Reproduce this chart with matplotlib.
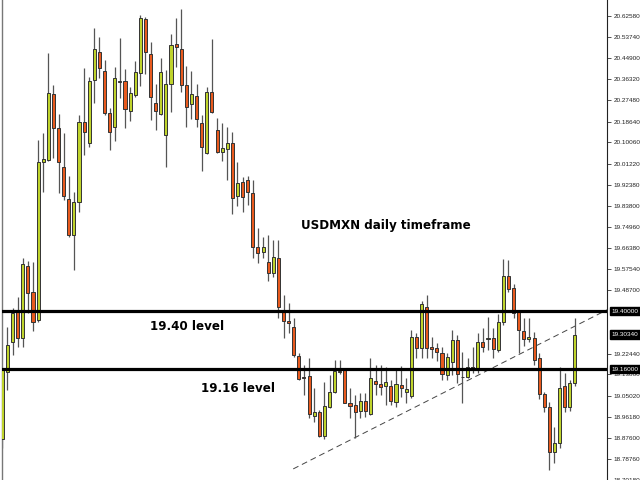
import numpy as np
import matplotlib.pyplot as plt
import matplotlib.transforms as mtransforms

# Daily USDMXN candles
opens = [18.868, 19.149, 19.274, 19.398, 19.290, 19.589, 19.481, 19.365, 20.020, 20.028,
         20.302, 20.161, 19.999, 19.866, 19.717, 19.854, 20.185, 20.098, 20.359, 20.475,
         20.397, 20.223, 20.165, 20.351, 20.355, 20.231, 20.297, 20.389, 20.612, 20.467,
         20.264, 20.219, 20.132, 20.343, 20.509, 20.488, 20.339, 20.260, 20.293, 20.181,
         20.057, 20.310, 20.152, 20.061, 20.073, 20.098, 19.879, 19.937, 19.945, 19.891,
         19.668, 19.647, 19.605, 19.560, 19.622, 19.406, 19.358, 19.336, 19.216, 19.129,
         19.133, 18.967, 18.983, 18.884, 19.004, 19.067, 19.149, 19.158, 19.021, 19.013,
         18.988, 19.029, 18.975, 19.112, 19.100, 19.091, 19.091, 19.025, 19.096, 19.067,
         19.050, 19.294, 19.249, 19.419, 19.253, 19.249, 19.228, 19.137, 19.191, 19.282,
         19.129, 19.129, 19.170, 19.166, 19.274, 19.286, 19.290, 19.241, 19.357, 19.547,
         19.498, 19.398, 19.320, 19.286, 19.290, 19.208, 19.058, 19.004, 18.818, 18.855,
         19.091, 19.004, 19.104]
highs = [19.166, 19.336, 19.414, 19.460, 19.622, 19.609, 19.605, 20.111, 20.140, 20.471,
         20.339, 20.219, 20.140, 19.962, 19.895, 20.214, 20.409, 20.372, 20.575, 20.538,
         20.442, 20.243, 20.413, 20.533, 20.405, 20.331, 20.438, 20.629, 20.621, 20.517,
         20.343, 20.451, 20.401, 20.550, 20.616, 20.654, 20.418, 20.397, 20.343, 20.214,
         20.331, 20.529, 20.202, 20.181, 20.165, 20.144, 20.020, 19.958, 19.962, 19.945,
         19.746, 19.709, 19.717, 19.696, 19.696, 19.469, 19.435, 19.373, 19.228, 19.178,
         19.208, 19.083, 18.992, 19.108, 19.137, 19.199, 19.199, 19.162, 19.083, 19.054,
         19.062, 19.062, 19.208, 19.178, 19.178, 19.170, 19.116, 19.166, 19.174, 19.125,
         19.324, 19.311, 19.444, 19.469, 19.294, 19.270, 19.253, 19.228, 19.324, 19.303,
         19.232, 19.208, 19.253, 19.311, 19.332, 19.377, 19.332, 19.390, 19.618, 19.614,
         19.514, 19.406, 19.373, 19.373, 19.315, 19.228, 19.067, 19.025, 18.918, 19.170,
         19.145, 19.116, 19.373]
lows = [18.834, 19.075, 19.220, 19.253, 19.253, 19.394, 19.320, 19.357, 19.895, 20.024,
        20.036, 19.891, 19.862, 19.709, 19.572, 19.813, 20.049, 20.082, 20.264, 20.368,
        20.214, 20.069, 20.107, 20.285, 20.161, 20.190, 20.289, 20.335, 20.384, 20.194,
        20.152, 20.214, 19.999, 20.227, 20.413, 20.310, 20.165, 20.198, 20.165, 19.982,
        20.053, 20.223, 20.057, 20.024, 19.945, 19.804, 19.837, 19.813, 19.842, 19.622,
        19.601, 19.622, 19.527, 19.543, 19.373, 19.290, 19.311, 19.212, 19.116, 19.054,
        18.958, 18.942, 18.880, 18.868, 19.000, 19.062, 19.141, 19.021, 18.958, 18.876,
        18.958, 18.963, 18.971, 19.054, 19.054, 19.013, 19.013, 19.004, 19.046, 19.021,
        19.042, 19.208, 19.208, 19.208, 19.208, 19.195, 19.116, 19.116, 19.137, 19.104,
        19.021, 19.125, 19.145, 19.145, 19.232, 19.241, 19.208, 19.232, 19.344, 19.481,
        19.373, 19.228, 19.257, 19.274, 19.178, 19.038, 18.980, 18.743, 18.772, 18.834,
        18.983, 18.988, 19.091]
closes = [19.158, 19.261, 19.394, 19.290, 19.597, 19.477, 19.357, 20.020, 20.032, 20.306,
          20.161, 20.020, 19.879, 19.717, 19.854, 20.185, 20.144, 20.355, 20.488, 20.409,
          20.223, 20.144, 20.368, 20.355, 20.239, 20.306, 20.393, 20.616, 20.475, 20.289,
          20.231, 20.393, 20.343, 20.504, 20.496, 20.339, 20.248, 20.302, 20.198, 20.082,
          20.310, 20.227, 20.061, 20.078, 20.098, 19.870, 19.933, 19.875, 19.895, 19.668,
          19.643, 19.668, 19.560, 19.626, 19.419, 19.358, 19.353, 19.220, 19.120, 19.125,
          18.975, 18.983, 18.884, 19.008, 19.067, 19.153, 19.153, 19.021, 19.008, 18.983,
          19.029, 18.988, 19.125, 19.100, 19.087, 19.108, 19.029, 19.100, 19.083, 19.079,
          19.294, 19.249, 19.431, 19.249, 19.244, 19.232, 19.141, 19.212, 19.282, 19.141,
          19.129, 19.170, 19.158, 19.274, 19.253, 19.290, 19.244, 19.357, 19.547, 19.493,
          19.394, 19.324, 19.286, 19.294, 19.199, 19.058, 19.004, 18.818, 18.855, 19.083,
          19.004, 19.104, 19.303]

levels = [19.40, 19.16]
level_labels = ['19.40 level', '19.16 level']
last_price = 19.3034

# dashed trendline end points (bar index, price)
trend_x = [56.9, 118.3]
trend_y = [18.746, 19.406]

ytick_vals = [20.62580, 20.53740, 20.44900, 20.36320, 20.27480, 20.18640, 20.10060,
              20.01220, 19.92380, 19.83800, 19.74960, 19.66380, 19.57540, 19.48700,
              19.22440, 19.13860, 19.05020, 18.96180, 18.87600, 18.78760, 18.70180]

up_color = '#BFD32C'
down_color = '#E85A1E'
edge = '#333333'

o = np.array(opens)
h = np.array(highs)
l = np.array(lows)
c = np.array(closes)
x = np.arange(len(o))

fig = plt.figure(figsize=(6.4, 4.8), dpi=100)
ax = fig.add_axes([2 / 640, 0, 605 / 640, 1])

# wicks
ax.vlines(x, l, h, color='#555555', linewidth=0.9, zorder=2)

# bodies
colors = [up_color if cc >= oo else down_color for oo, cc in zip(o, c)]
ax.bar(x, np.abs(c - o), bottom=np.minimum(o, c), width=0.6, color=colors,
       edgecolor=edge, linewidth=0.7, zorder=3)

# support / resistance levels
for lv in levels:
    ax.axhline(lv, color='black', linewidth=2.3, zorder=4)

ax.plot(trend_x, trend_y, color='#444444', linewidth=0.7, linestyle=(0, (6, 4)), zorder=1)

ax.text(36.1, 19.336, level_labels[0], fontsize=8.6, fontweight='bold', ha='center', va='center')
ax.text(46.1, 19.081, level_labels[1], fontsize=8.6, fontweight='bold', ha='center', va='center')
ax.text(75.0, 19.754, 'USDMXN daily timeframe', fontsize=8.6, fontweight='bold',
        ha='center', va='center')

ax.set_xlim(-0.06, 118.27)
ax.set_ylim(18.700, 20.691)

# price axis on the right
ax.yaxis.tick_right()
ax.set_yticks(ytick_vals)
ax.set_yticklabels([f'{v:.5f}' for v in ytick_vals])
ax.tick_params(axis='y', length=3, width=0.6, color='#333333', labelsize=4.6,
               labelcolor='#222222', pad=2, labelfontfamily='Liberation Sans')
ax.set_xticks([])

for s in ['top', 'bottom']:
    ax.spines[s].set_visible(False)
ax.spines['left'].set_color('#777777')
ax.spines['left'].set_linewidth(1.0)
ax.spines['right'].set_color('#222222')
ax.spines['right'].set_linewidth(0.8)

# boxed price labels
trans = mtransforms.blended_transform_factory(ax.transAxes, ax.transData)
for v in levels + [last_price]:
    ax.text(1.008, v, f'{v:.5f}', transform=trans, color='white', fontsize=4.6,
            family='Liberation Sans', ha='left', va='center', clip_on=False,
            bbox=dict(facecolor='black', edgecolor='black', pad=1.2))

fig.savefig('out.png', dpi=100)
